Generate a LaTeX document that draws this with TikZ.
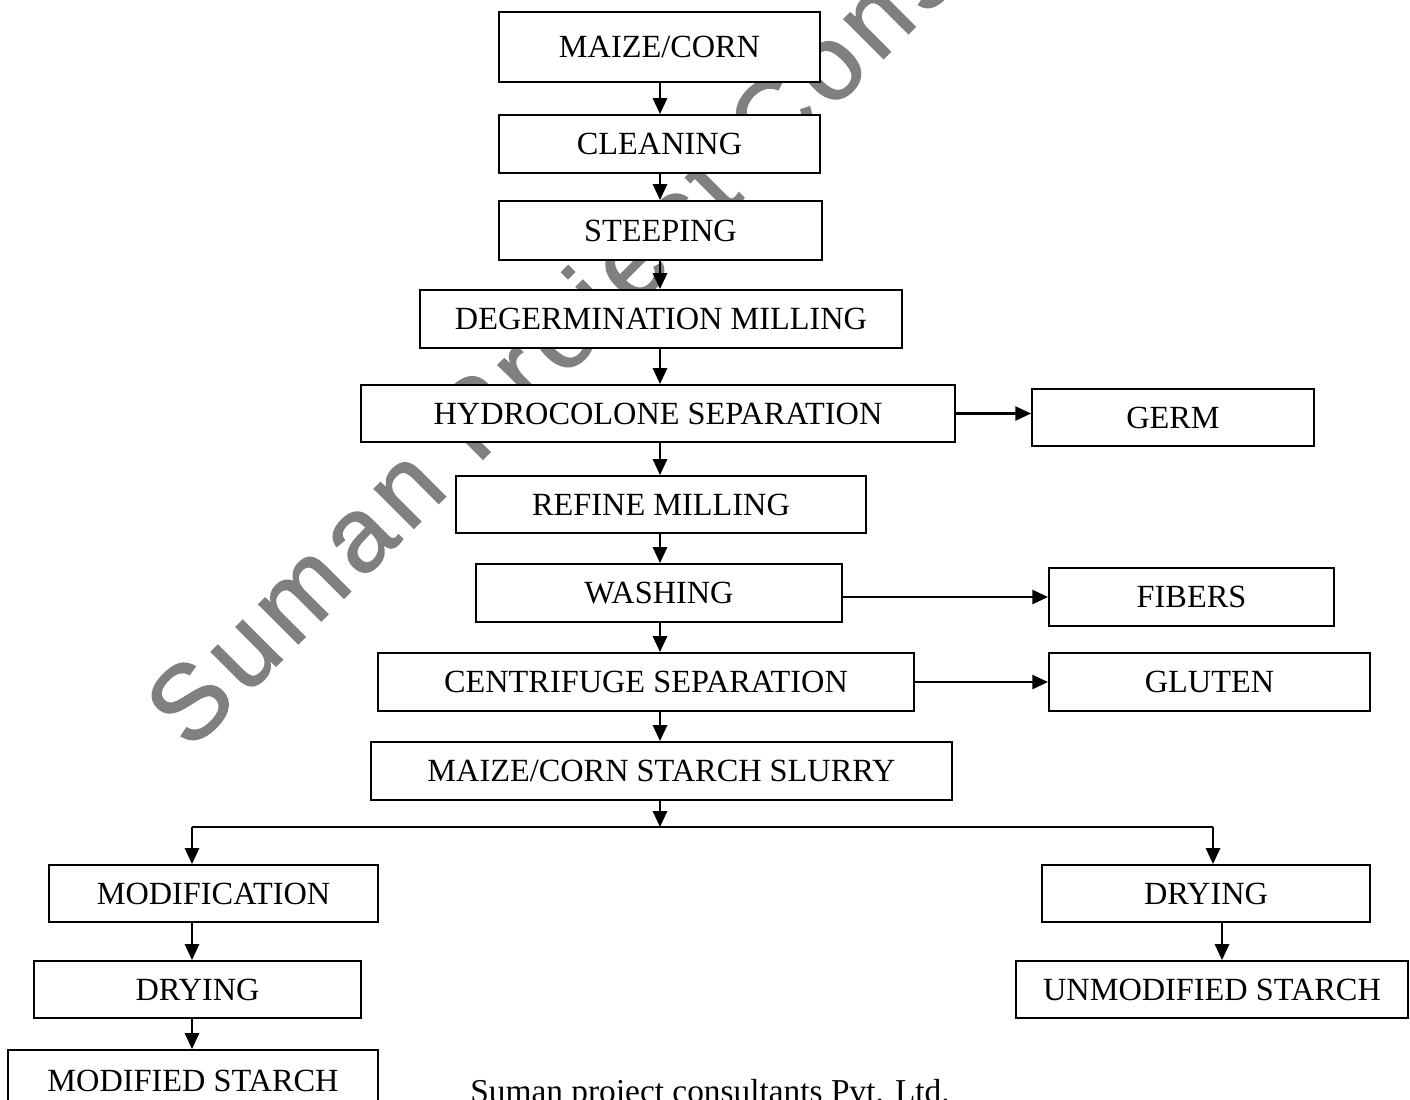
\documentclass[tikz,border=0pt]{standalone}
\usepackage{fontspec}
\setmainfont{Liberation Serif}
\newfontfamily\wmfont[LetterSpace=8, FakeBold=1.5]{Liberation Sans}
\usetikzlibrary{arrows.meta}
\definecolor{wmgray}{RGB}{128,128,128}

\tikzset{
  stepbox/.style={draw=black, fill=white, line width=1.1pt, inner sep=0pt, minimum height=1.16cm},
  arr/.style={draw=black, line width=1.4pt, -{Triangle[length=9pt,width=8pt]}},
  link/.style={draw=black, line width=1.4pt}
}

\begin{document}
\begin{tikzpicture}[x=0.02cm, y=-0.02cm, font=\fontsize{18.4}{22}\selectfont]
\useasboundingbox (0,0) rectangle (1410,1099);
\clip (0,0) rectangle (1410,1099);

% watermark
\node[anchor=base west, rotate=45, text=wmgray, font=\wmfont\fontsize{60}{64}\selectfont, inner sep=0pt]
    (wm) at (190,752) {Suman Project Consultants};

\begin{scope}[every node/.style={stepbox}]
    \node[minimum width=6.42cm, minimum height=1.4cm] (maize) at (659.5,47) {MAIZE/CORN};
    \node[minimum width=6.42cm] (clean) at (659.5,144) {CLEANING};
    \node[minimum width=6.46cm, minimum height=1.18cm] (steep) at (660.5,230.5) {STEEPING};
    \node[minimum width=9.64cm] (degerm) at (661,319) {DEGERMINATION MILLING};
    \node[minimum width=11.88cm, minimum height=1.14cm] (hydro) at (658,413.5) {HYDROCOLONE SEPARATION};
    \node[minimum width=5.64cm, minimum height=1.14cm] (germ) at (1173,417.5) {GERM};
    \node[minimum width=8.2cm, minimum height=1.14cm] (refine) at (661,504.5) {REFINE MILLING};
    \node[minimum width=7.32cm] (wash) at (659,593) {WASHING};
    \node[minimum width=5.7cm] (fibers) at (1191.5,597) {FIBERS};
    \node[minimum width=10.72cm] (centri) at (646,682) {CENTRIFUGE SEPARATION};
    \node[minimum width=6.42cm] (gluten) at (1209.5,682) {GLUTEN};
    \node[minimum width=11.62cm] (slurry) at (661.5,771) {MAIZE/CORN STARCH SLURRY};
    \node[minimum width=6.58cm, minimum height=1.14cm] (modif) at (213.5,893.5) {MODIFICATION};
    \node[minimum width=6.54cm, minimum height=1.14cm] (dryL) at (197.5,989.5) {DRYING};
    \node[minimum width=7.4cm, minimum height=1.24cm] (modst) at (193,1081) {MODIFIED STARCH};
    \node[minimum width=6.56cm, minimum height=1.14cm] (dryR) at (1206,893.5) {DRYING};
    \node[minimum width=7.84cm, minimum height=1.14cm] (unmod) at (1212,989.5) {UNMODIFIED STARCH};
\end{scope}

\node[anchor=base west, inner sep=0pt, font=\fontsize{19}{22}\selectfont] (foot) at (470,1102)
    {Suman project consultants Pvt. Ltd.};

% main line
\coordinate (col) at (660,0);
\coordinate (colL) at (192,0);
\coordinate (colR) at (1222,0);
\coordinate (split) at (660,827);
\coordinate (splitL) at (192,827);
\coordinate (splitR) at (1213,827);

\draw[arr] (maize.south -| col) -- (clean.north -| col);
\draw[arr] (clean.south -| col) -- (steep.north -| col);
\draw[arr] (steep.south -| col) -- (degerm.north -| col);
\draw[arr] (degerm.south -| col) -- (hydro.north -| col);
\draw[arr] (hydro.south -| col) -- (refine.north -| col);
\draw[arr] (refine.south -| col) -- (wash.north -| col);
\draw[arr] (wash.south -| col) -- (centri.north -| col);
\draw[arr] (centri.south -| col) -- (slurry.north -| col);
\draw[arr] (slurry.south -| col) -- (split);

% side products
\draw[arr] (hydro.east) -- (hydro.east -| germ.west);
\draw[arr] (wash.east |- fibers.west) -- (fibers.west);
\draw[arr] (centri.east) -- (centri.east -| gluten.west);

% branches
\draw[link] (splitL) -- (splitR);
\draw[arr] (splitL) -- (modif.north -| splitL);
\draw[arr] (splitR) -- (dryR.north -| splitR);
\draw[arr] (modif.south -| colL) -- (dryL.north -| colL);
\draw[arr] (dryL.south -| colL) -- (modst.north -| colL);
\draw[arr] (dryR.south -| colR) -- (unmod.north -| colR);
\end{tikzpicture}
\end{document}
